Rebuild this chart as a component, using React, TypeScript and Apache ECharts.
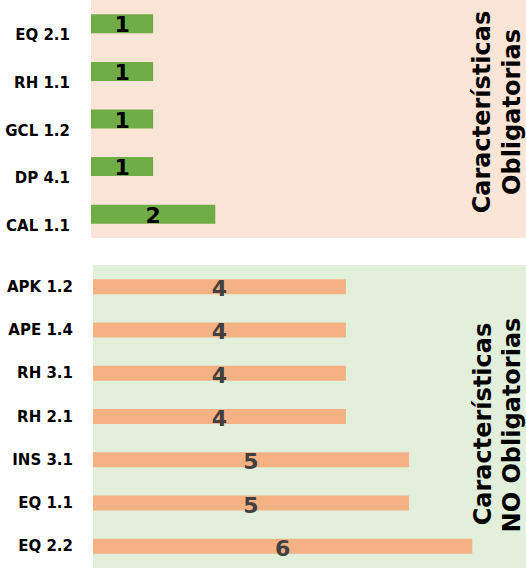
import React, { useEffect, useRef } from "react";
import * as echarts from "echarts";

const topCategories = ["EQ 2.1", "RH 1.1", "GCL 1.2", "DP 4.1", "CAL 1.1"];
const topValues = [1, 1, 1, 1, 2];
const bottomCategories = ["APK 1.2", "APE 1.4", "RH 3.1", "RH 2.1", "INS 3.1", "EQ 1.1", "EQ 2.2"];
const bottomValues = [4, 4, 4, 4, 5, 5, 6];
const topTitle = ["Características", "Obligatorias"];
const bottomTitle = ["Características", "NO Obligatorias"];

const FONT = "DejaVu Sans";

export default function App() {
  const ref = useRef<HTMLDivElement>(null);
  useEffect(() => {
    document.body.style.margin = "0";
    const chart = echarts.init(ref.current!, null, { renderer: "svg" });
    const catLabel = {
      fontFamily: FONT,
      fontWeight: "bold" as const,
      fontSize: 15,
      color: "#000",
    };
    const titleStyle = {
      fontFamily: FONT,
      fontWeight: "bold" as const,
      fontSize: 24,
      lineHeight: 24,
      fill: "#000",
      align: "center" as const,
      verticalAlign: "middle" as const,
    };
    chart.setOption({
      animation: false,
      grid: [
        { left: 91, top: 0, width: 436, height: 238, show: true, backgroundColor: "#fbe5d6", borderWidth: 0 },
        { left: 93, top: 265, width: 433, height: 303, show: true, backgroundColor: "#e2efda", borderWidth: 0 },
      ],
      xAxis: [
        { gridIndex: 0, type: "value", min: 0, max: 7, show: false },
        { gridIndex: 1, type: "value", min: 0, max: 6.85, show: false },
      ],
      yAxis: [
        {
          gridIndex: 0,
          type: "category",
          inverse: true,
          data: topCategories,
          axisLine: { show: false },
          axisTick: { show: false },
          axisLabel: { ...catLabel, margin: 21, verticalAlign: "top", lineHeight: 23 },
        },
        {
          gridIndex: 1,
          type: "category",
          inverse: true,
          data: bottomCategories,
          axisLine: { show: false },
          axisTick: { show: false },
          axisLabel: { ...catLabel, margin: 20 },
        },
      ],
      series: [
        {
          type: "bar",
          xAxisIndex: 0,
          yAxisIndex: 0,
          data: topValues,
          barWidth: 19,
          itemStyle: { color: "#70ad47" },
          label: {
            show: true,
            position: "inside",
            fontFamily: FONT,
            fontWeight: "bold",
            fontSize: 22,
            color: "#000",
            offset: [0, 1],
          },
        },
        {
          type: "bar",
          xAxisIndex: 1,
          yAxisIndex: 1,
          data: bottomValues,
          barWidth: 15,
          itemStyle: { color: "#f4b183" },
          label: {
            show: true,
            position: "inside",
            fontFamily: FONT,
            fontWeight: "bold",
            fontSize: 22,
            color: "#404040",
            offset: [0, 2],
          },
        },
      ],
      graphic: [
        { type: "text", x: 482, y: 112, rotation: Math.PI / 2, style: { ...titleStyle, text: topTitle[0] } },
        { type: "text", x: 512, y: 112, rotation: Math.PI / 2, style: { ...titleStyle, text: topTitle[1] } },
        { type: "text", x: 483, y: 424, rotation: Math.PI / 2, style: { ...titleStyle, text: bottomTitle[0] } },
        { type: "text", x: 512, y: 425, rotation: Math.PI / 2, style: { ...titleStyle, text: bottomTitle[1] } },
      ],
    });
    return () => chart.dispose();
  }, []);
  return <div ref={ref} style={{ width: 526, height: 569 }} />;
}
